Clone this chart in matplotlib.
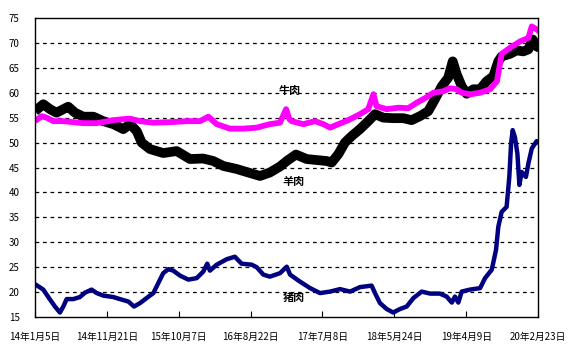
import matplotlib
matplotlib.use('Agg')
import matplotlib.pyplot as plt
import pandas as pd

plt.rcParams['font.family'] = ['Noto Sans CJK SC', 'DejaVu Sans']
plt.rcParams['axes.unicode_minus'] = False

# 牛肉 (beef)
beef_dates = ['2014-01-05', '2014-02-04', '2014-02-26', '2014-03-28', '2014-05-11', '2014-06-25',
              '2014-08-08', '2014-10-07', '2014-12-20', '2015-02-02', '2015-03-04', '2015-04-18',
              '2015-06-16', '2015-08-29', '2015-11-11', '2016-01-10', '2016-02-16', '2016-03-24',
              '2016-05-22', '2016-07-21', '2016-09-18', '2016-11-16', '2016-12-31', '2017-01-27',
              '2017-02-11', '2017-02-21', '2017-04-14', '2017-06-05', '2017-07-12', '2017-08-11',
              '2017-09-17', '2017-10-31', '2017-12-22', '2018-01-28', '2018-02-20', '2018-03-06',
              '2018-04-20', '2018-06-11', '2018-07-25', '2018-09-01', '2018-10-15', '2018-11-14',
              '2018-12-28', '2019-01-27', '2019-02-26', '2019-03-20', '2019-04-26', '2019-06-10',
              '2019-07-24', '2019-08-24', '2019-09-14', '2019-10-21', '2019-12-05', '2020-01-11',
              '2020-01-26', '2020-02-17', '2020-03-01']
beef = [54.3, 55.3, 55.0, 54.3, 54.3, 54.1,
        53.9, 53.9, 54.5, 54.7, 54.8, 54.3,
        54.0, 54.1, 54.3, 54.3, 55.2, 53.7,
        52.8, 52.8, 53.0, 53.7, 54.0, 56.7,
        54.7, 54.3, 53.7, 54.3, 53.7, 53.0,
        53.7, 54.5, 55.7, 56.7, 59.7, 57.3,
        56.7, 57.0, 56.9, 58.0, 59.1, 60.0,
        60.3, 60.9, 60.7, 60.0, 59.7, 60.0,
        60.7, 62.3, 67.8, 69.0, 70.3, 71.0,
        73.3, 72.7, 72.3]

# 羊肉 (mutton)
mutton_dates = ['2014-01-05', '2014-02-11', '2014-03-13', '2014-04-11', '2014-05-11', '2014-06-02',
                '2014-07-02', '2014-08-08', '2014-09-22', '2014-11-05', '2014-12-20', '2015-02-02',
                '2015-03-04', '2015-04-03', '2015-04-25', '2015-06-01', '2015-07-30', '2015-09-28',
                '2015-11-26', '2016-01-24', '2016-03-09', '2016-04-23', '2016-06-21', '2016-08-19',
                '2016-10-03', '2016-11-16', '2016-12-31', '2017-01-30', '2017-03-12', '2017-04-29',
                '2017-06-12', '2017-07-27', '2017-08-18', '2017-09-17', '2017-10-16', '2017-11-15',
                '2017-12-22', '2018-01-28', '2018-02-27', '2018-04-05', '2018-05-19', '2018-07-03',
                '2018-08-09', '2018-09-15', '2018-10-22', '2018-11-21', '2018-12-21', '2019-01-19',
                '2019-02-08', '2019-02-26', '2019-03-20', '2019-04-11', '2019-05-11', '2019-06-10',
                '2019-07-09', '2019-08-08', '2019-08-30', '2019-09-14', '2019-10-21', '2019-11-20',
                '2019-12-19', '2020-01-11', '2020-01-30', '2020-02-17', '2020-03-01']
mutton = [56.3, 57.7, 56.7, 56.0, 56.7, 57.2,
          56.0, 55.2, 55.2, 54.3, 53.7, 52.7,
          53.7, 52.3, 50.0, 48.7, 47.9, 48.3,
          46.7, 46.8, 46.3, 45.3, 44.7, 43.9,
          43.3, 44.0, 45.2, 46.3, 47.6, 46.7,
          46.5, 46.3, 46.0, 47.7, 50.0, 51.3,
          52.7, 54.3, 55.7, 55.0, 54.9, 54.9,
          54.5, 55.3, 56.3, 58.7, 61.3, 63.0,
          66.3, 63.7, 61.3, 59.8, 60.7, 60.7,
          62.3, 63.3, 66.3, 67.3, 67.8, 68.5,
          68.3, 68.7, 70.7, 69.3, 69.0]

# 猪肉 (pork)
pork_dates = ['2014-01-05', '2014-02-11', '2014-03-13', '2014-04-04', '2014-04-26', '2014-05-11',
              '2014-05-26', '2014-06-25', '2014-07-24', '2014-08-16', '2014-09-14', '2014-10-07',
              '2014-11-05', '2014-12-20', '2015-01-18', '2015-02-25', '2015-03-22', '2015-04-18',
              '2015-05-17', '2015-06-16', '2015-07-08', '2015-07-30', '2015-08-22', '2015-09-13',
              '2015-10-13', '2015-11-19', '2015-12-26', '2016-01-24', '2016-02-11', '2016-02-23',
              '2016-03-24', '2016-05-08', '2016-06-13', '2016-07-13', '2016-08-27', '2016-09-18',
              '2016-10-18', '2016-11-16', '2016-12-31', '2017-01-30', '2017-02-14', '2017-03-30',
              '2017-05-14', '2017-06-27', '2017-08-11', '2017-09-24', '2017-11-08', '2017-12-22',
              '2018-02-12', '2018-02-27', '2018-03-21', '2018-04-20', '2018-05-19', '2018-06-18',
              '2018-07-18', '2018-08-17', '2018-09-23', '2018-10-30', '2018-12-13', '2019-01-12',
              '2019-02-04', '2019-02-18', '2019-03-05', '2019-03-20', '2019-04-26', '2019-06-10',
              '2019-07-02', '2019-08-01', '2019-08-20', '2019-08-30', '2019-09-14', '2019-10-06',
              '2019-10-18', '2019-10-26', '2019-11-02', '2019-11-12', '2019-11-23', '2019-12-02',
              '2019-12-12', '2019-12-31', '2020-01-11', '2020-01-26', '2020-02-17', '2020-03-01']
pork = [21.6, 20.5, 18.5, 17.1, 15.9, 17.1,
        18.6, 18.6, 19.0, 19.9, 20.5, 19.8,
        19.3, 19.0, 18.6, 18.1, 17.1, 17.8,
        18.8, 19.8, 21.8, 23.8, 24.6, 24.3,
        23.3, 22.5, 22.8, 24.1, 25.7, 24.3,
        25.5, 26.6, 27.1, 25.7, 25.5, 25.0,
        23.5, 23.1, 23.8, 25.1, 23.5, 22.1,
        20.8, 19.8, 20.1, 20.6, 20.1, 21.0,
        21.3, 19.8, 17.8, 16.6, 15.9, 16.6,
        17.1, 18.8, 20.1, 19.7, 19.7, 19.1,
        17.9, 19.1, 17.9, 20.1, 20.5, 20.8,
        22.8, 24.5, 28.5, 33.1, 36.1, 37.1,
        43.1, 49.8, 52.5, 51.1, 47.8, 41.5,
        44.1, 43.1, 45.8, 48.8, 50.3, 49.8]

tick_dates = ['2014-01-05', '2014-11-21', '2015-10-07', '2016-08-22',
              '2017-07-08', '2018-05-24', '2019-04-09', '2020-02-23']
tick_labels = ['14年1月5日', '14年11月21日', '15年10月7日', '16年8月22日',
               '17年7月8日', '18年5月24日', '19年4月9日', '20年2月23日']

fig = plt.figure(figsize=(5.87, 3.57), dpi=100)
ax = fig.add_axes([0.0596, 0.112, 0.857, 0.8376])

ax.plot(pd.to_datetime(mutton_dates), mutton, color='black', lw=7,
        solid_joinstyle='round', solid_capstyle='butt', zorder=3)
ax.plot(pd.to_datetime(beef_dates), beef, color='#FF00FF', lw=4.2,
        solid_joinstyle='round', solid_capstyle='butt', zorder=4)
ax.plot(pd.to_datetime(pork_dates), pork, color='#000080', lw=3.2,
        solid_joinstyle='round', solid_capstyle='butt', zorder=4)

ax.set_xlim(pd.Timestamp('2014-01-05'), pd.Timestamp('2020-02-23'))
ax.set_ylim(15, 75)
ax.set_yticks(range(15, 80, 5))
ax.set_xticks(pd.to_datetime(tick_dates))
ax.set_xticklabels(tick_labels)
for y in range(20, 75, 5):
    ax.axhline(y, color='black', lw=0.9, ls=(0, (3, 3)), zorder=1)

ax.tick_params(axis='x', direction='in', length=4, width=0.8, pad=11, labelsize=7)
ax.tick_params(axis='y', length=0, pad=11, labelsize=7)
for s in ax.spines.values():
    s.set_linewidth(1.0)
    s.set_zorder(5)

ax.text(pd.Timestamp('2017-02-13'), 60.4, '牛肉', fontsize=8, fontweight='heavy', ha='center', va='center', zorder=6)
ax.text(pd.Timestamp('2017-03-03'), 42.1, '羊肉', fontsize=8, fontweight='heavy', ha='center', va='center', zorder=6)
ax.text(pd.Timestamp('2017-03-03'), 19.0, '猪肉', fontsize=8, fontweight='heavy', ha='center', va='center', zorder=6)

fig.savefig('out.png', dpi=100)
